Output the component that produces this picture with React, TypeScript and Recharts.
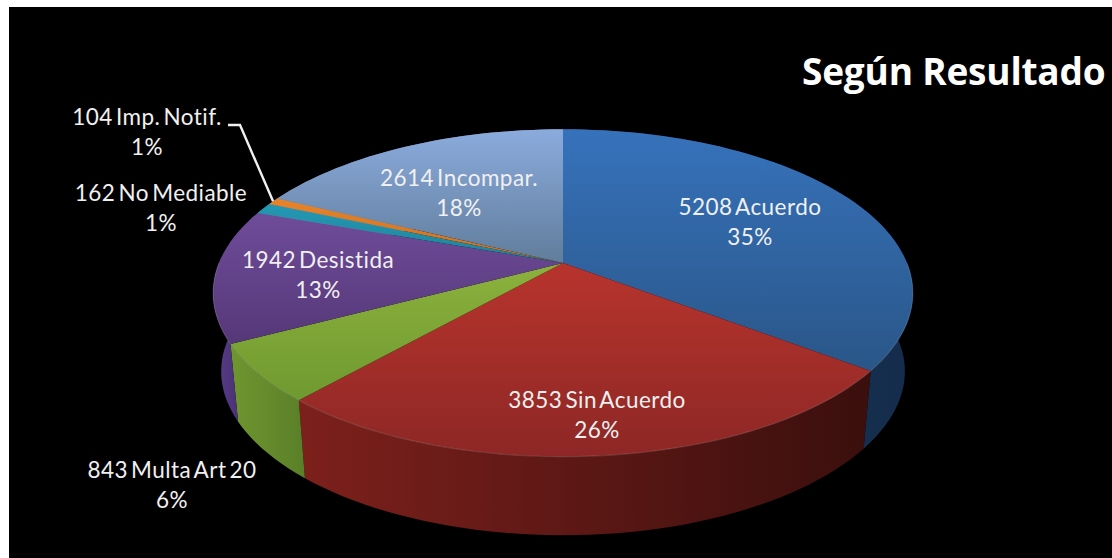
import { PieChart, Pie } from 'recharts';

const categories = ['Acuerdo', 'Sin Acuerdo', 'Multa Art 20', 'Desistida', 'No Mediable', 'Imp. Notif.', 'Incompar.'];
const values = [5208, 3853, 843, 1942, 162, 104, 2614];
const topColors = [
  ['#3672bb', '#2a5688'],
  ['#b8342d', '#8d2725'],
  ['#8cb13d', '#6f9a30'],
  ['#6f4c9a', '#553878'],
  ['#2498b4', '#1f8299'],
  ['#e8832a', '#c96f20'],
  ['#8babdd', '#607d9b'],
];
const wallColors = [
  ['#1c3a5e', '#152c4c'],
  ['#7d201c', '#3a0f0d'],
  ['#6f9630', '#5a7f28'],
  ['#5a3d88', '#3a2763'],
  ['#1d7b90', '#186577'],
  ['#b8651f', '#9a541a'],
  ['#5f7ca8', '#4f6a90'],
];

const data = categories.map((name, i) => ({ name, value: values[i] }));

// label centres relative to the pie apex, first line baseline
const labelOffsets = [
  [187, -48],
  [34, 145],
  [-391, 215],
  [-245, 5],
  [-402, -62],
  [-416, -138],
  [-104, -77],
];

const CX = 563;
const CY = 263;
const RADIUS = 344;
const SQUASH = 0.46;
const PERSPECTIVE = 0.183;
const WALL_PERSPECTIVE = 0.2;
const WALL_SCALE = 0.977;
const WALL_DROP = 79;
const FONT = 'Lato, "Open Sans", sans-serif';

// tilts a point of the flat pie into the picture plane
function project(cx: number, cy: number, r: number, deg: number, base = false) {
  const a = (deg * Math.PI) / 180;
  const sin = Math.sin(a);
  const s = base ? WALL_SCALE : 1;
  return {
    x: cx + (s * r * Math.cos(a)) / (1 + PERSPECTIVE * sin),
    y: cy - (s * SQUASH * r * sin) / (1 + (base ? WALL_PERSPECTIVE : PERSPECTIVE) * sin) + (base ? WALL_DROP : 0),
  };
}

function arcPoints(cx: number, cy: number, r: number, from: number, to: number, base = false) {
  const steps = Math.max(4, Math.ceil(Math.abs(to - from) / 2));
  const pts = [];
  for (let i = 0; i <= steps; i++) {
    pts.push(project(cx, cy, r, from + ((to - from) * i) / steps, base));
  }
  return pts;
}

const toPath = (pts: { x: number; y: number }[]) =>
  pts.map((p, i) => `${i ? 'L' : 'M'}${p.x.toFixed(1)},${p.y.toFixed(1)}`).join(' ');

function TopSlice(props: any) {
  const { cx, cy, outerRadius, startAngle, endAngle, index } = props;
  const pts = arcPoints(cx, cy, outerRadius, startAngle, endAngle);
  // thin lit edge, only where the rim faces the viewer
  const from = Math.min(startAngle, 0);
  const to = Math.max(endAngle, -180);
  return (
    <g>
      <path d={`M${cx},${cy} ${toPath(pts).replace('M', 'L')} Z`} fill={`url(#top${index})`} />
      {from > to && (
        <path d={toPath(arcPoints(cx, cy, outerRadius, from, to))} fill="none" stroke="#fff" strokeOpacity={0.14} strokeWidth={1.2} />
      )}
    </g>
  );
}

function WallSlice(props: any) {
  const { cx, cy, outerRadius, startAngle, endAngle, index } = props;
  const top = arcPoints(cx, cy, outerRadius, startAngle, endAngle);
  const bottom = arcPoints(cx, cy, outerRadius, endAngle, startAngle, true);
  return <path d={`${toPath(top)} ${toPath(bottom).replace('M', 'L')} Z`} fill={`url(#wall${index})`} />;
}

function SliceLabel(props: any) {
  const { cx, cy, index, name, value, percent } = props;
  const [dx, dy] = labelOffsets[index];
  return (
    <text
      x={cx + dx}
      y={cy + dy}
      fill="#f0f0f0"
      fontFamily={FONT}
      fontSize={22.5}
      letterSpacing={0.45}
      wordSpacing={-3}
      textAnchor="middle"
      style={{ fontVariantLigatures: 'none' }}
    >
      <tspan x={cx + dx}>{`${value} ${name}`}</tspan>
      <tspan x={cx + dx} dy={30}>{`${Math.round(percent * 100)}%`}</tspan>
    </text>
  );
}

function LeaderLine(props: any) {
  const { index, cx, cy, outerRadius, midAngle } = props;
  if (categories[index] !== 'Imp. Notif.') return <g />;
  const tip = project(cx, cy, outerRadius, midAngle);
  return (
    <polyline
      points={`${cx - 335},${cy - 138} ${cx - 323},${cy - 138} ${tip.x},${tip.y}`}
      fill="none"
      stroke="#f0f0f0"
      strokeWidth={2.4}
    />
  );
}

export default function App() {
  return (
    <div style={{ position: 'absolute', left: 0, top: 0, width: 1112, height: 558, background: '#fff', overflow: 'hidden' }}>
      <div style={{ position: 'absolute', left: 9, top: 7, right: 0, bottom: 0, background: '#000' }} />
      <div style={{ position: 'absolute', left: 0, top: 0 }}>
        <PieChart width={1112} height={558} margin={{ top: 0, right: 0, bottom: 0, left: 0 }}>
          <defs>
            {topColors.map((c, i) => (
              <linearGradient key={i} id={`top${i}`} x1="0" y1="0" x2="0" y2="1">
                <stop offset="0%" stopColor={c[0]} />
                <stop offset="100%" stopColor={c[1]} />
              </linearGradient>
            ))}
            {wallColors.map((c, i) => (
              <linearGradient key={i} id={`wall${i}`} x1="0" y1="0" x2="1" y2="0">
                <stop offset="0%" stopColor={c[0]} />
                <stop offset="100%" stopColor={c[1]} />
              </linearGradient>
            ))}
          </defs>
          <text x={802} y={85} fill="#fff" fontFamily='"Open Sans", sans-serif' fontSize={37} fontWeight={700} letterSpacing={-0.2}>
            Según Resultado
          </text>
          <Pie
            data={data}
            dataKey="value"
            nameKey="name"
            cx={CX}
            cy={CY}
            outerRadius={RADIUS}
            startAngle={90}
            endAngle={-270}
            stroke="none"
            shape={WallSlice}
            isAnimationActive={false}
          />
          <Pie
            data={data}
            dataKey="value"
            nameKey="name"
            cx={CX}
            cy={CY}
            outerRadius={RADIUS}
            startAngle={90}
            endAngle={-270}
            stroke="none"
            shape={TopSlice}
            label={SliceLabel}
            labelLine={LeaderLine}
            isAnimationActive={false}
          />
        </PieChart>
      </div>
    </div>
  );
}
